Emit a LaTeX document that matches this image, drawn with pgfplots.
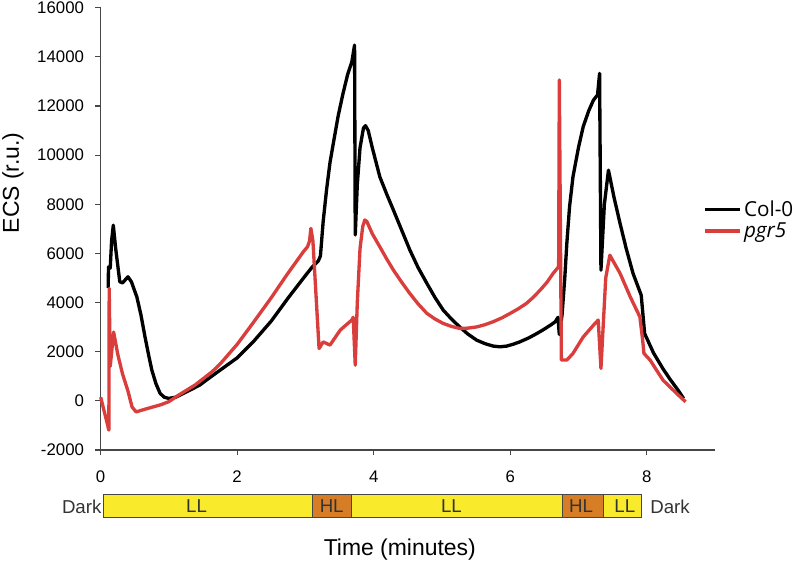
\documentclass[border=0pt]{standalone}
\usepackage{pgfplots}
\pgfplotsset{compat=1.18}
\usepackage{fontspec}
\setmainfont{Liberation Sans}
\newfontfamily\legfont{Open Sans}
\definecolor{colred}{RGB}{218,62,60}
\definecolor{barY}{RGB}{249,234,43}
\definecolor{barO}{RGB}{214,125,38}
\definecolor{axgray}{RGB}{70,70,70}
\begin{document}
\begin{tikzpicture}
\begin{axis}[
  at={(75.5pt,-337.5pt)}, anchor=south west,
  scale only axis, width=460.7pt, height=331.7pt,
  xmin=0, xmax=9, ymin=-2000, ymax=16000,
  axis lines*=left,
  axis line style={axgray, line width=0.9pt},
  xtick={0,2,4,6,8}, ytick={-2000,0,2000,4000,6000,8000,10000,12000,14000,16000},
  tick style={axgray, line width=0.9pt},
  tick align=outside, major tick length=4pt,
  scaled y ticks=false,
  /pgf/number format/assume math mode=true,
  /pgf/number format/1000 sep={},
  ticklabel style={font=\fontsize{12.6pt}{14pt}\selectfont},
  xticklabel style={yshift=-8pt},
  yticklabel style={xshift=-5pt},
  xlabel={Time (minutes)}, ylabel={ECS (r.u.)},
  label style={font=\fontsize{17.2pt}{20pt}\selectfont},
  xlabel style={at={(axis description cs:0.487,-0.226)}, anchor=center},
  ylabel style={at={(axis description cs:-0.1428,0.604)}, anchor=center},
  clip=false,
  legend style={draw=none, fill=none, at={(axis description cs:0.974,0.576)}, anchor=north west,
    font=\legfont\fontsize{15.5pt}{18pt}\selectfont, row sep=-1pt},
  legend cell align=left,
  legend image code/.code={\draw[#1, line width=2.6pt] (0pt,0pt) -- (26pt,0pt);},
  every axis plot/.append style={line width=2.5pt, line join=round},
]
\addplot[black] coordinates {
(0.11,4600) (0.115,5450) (0.14,5400) (0.16,6500) (0.185,7150) (0.22,6200) (0.28,4850) (0.32,4800)
(0.40,5050) (0.45,4850) (0.53,4230) (0.59,3500) (0.65,2600) (0.70,1900) (0.75,1250) (0.81,700)
(0.87,310) (0.93,150) (1.0,100) (1.1,150) (1.26,370) (1.45,640) (1.6,950) (1.75,1250)
(2.0,1750) (2.25,2450) (2.5,3250) (2.75,4200) (3.0,5100) (3.1,5450) (3.19,5700)
(3.22,5900) (3.26,7300) (3.31,8600) (3.36,9700) (3.41,10500) (3.48,11600) (3.55,12500)
(3.62,13300) (3.68,13800) (3.72,14480) (3.73,6750) (3.76,8800) (3.80,10300) (3.85,11100)
(3.88,11200) (3.92,11000) (3.98,10300) (4.09,9120) (4.19,8420) (4.29,7760) (4.41,6950)
(4.53,6140) (4.65,5430) (4.78,4780) (4.9,4200) (5.02,3690) (5.14,3330) (5.26,3010) (5.38,2720)
(5.51,2470) (5.63,2330) (5.75,2230) (5.85,2200) (5.95,2230) (6.05,2310) (6.14,2400) (6.27,2560)
(6.39,2740) (6.5,2920) (6.6,3100) (6.66,3220) (6.70,3400) (6.72,2700) (6.76,3500) (6.80,5000)
(6.83,6410) (6.87,7900) (6.92,9120) (7.0,10300) (7.07,11160) (7.15,11800) (7.22,12240)
(7.28,12450) (7.31,13330) (7.33,5320) (7.38,8000) (7.44,9390) (7.52,8300) (7.61,7220)
(7.70,6200) (7.80,5190) (7.92,4300) (7.97,2740) (8.1,1950) (8.24,1300) (8.35,850) (8.46,435) (8.54,100)
};
\addlegendentry{Col-0}
\addplot[colred] coordinates {
(0,150) (0.05,-400) (0.12,-1190) (0.125,4580) (0.14,1400) (0.19,2800) (0.25,1900) (0.32,1100)
(0.40,400) (0.46,-250) (0.52,-450) (0.6,-380) (0.7,-300) (0.89,-150) (1.0,-30) (1.14,230)
(1.38,640) (1.63,1180) (1.75,1500) (2.0,2300) (2.24,3200) (2.5,4200) (2.72,5100)
(2.97,6070) (3.03,6270) (3.06,6500) (3.08,7020) (3.11,6500) (3.20,2130) (3.26,2400) (3.36,2270)
(3.51,2880) (3.60,3100) (3.68,3290) (3.70,3400) (3.73,1450) (3.76,4000) (3.80,6200) (3.84,7100)
(3.87,7360) (3.90,7300) (3.98,6800) (4.09,6270) (4.19,5780) (4.29,5320) (4.41,4830) (4.53,4370)
(4.65,3950) (4.78,3560) (4.9,3330) (5.02,3150) (5.14,3030) (5.26,2950) (5.38,2960) (5.51,3010)
(5.63,3100) (5.75,3220) (5.88,3380) (6.0,3560) (6.12,3750) (6.24,3970) (6.34,4220) (6.44,4510)
(6.54,4830) (6.63,5190) (6.71,5460) (6.72,13060) (6.75,1660) (6.83,1660)
(6.92,1930) (7.07,2600) (7.22,3080) (7.29,3290) (7.33,1320) (7.40,5000) (7.46,5930) (7.61,5190)
(7.76,4230) (7.90,3420) (7.94,2500) (7.96,1930) (8.05,1660) (8.24,840) (8.44,300) (8.57,-40)
};
\addlegendentry{\textit{pgr5}}
% light regime bar
\begin{scope}[draw=axgray, line width=0.8pt]
\filldraw[fill=barY] (axis cs:0.04,-3811) rectangle (axis cs:3.10,-4764);
\filldraw[fill=barO] (axis cs:3.10,-3811) rectangle (axis cs:3.67,-4764);
\filldraw[fill=barY] (axis cs:3.67,-3811) rectangle (axis cs:6.76,-4764);
\filldraw[fill=barO] (axis cs:6.76,-3811) rectangle (axis cs:7.37,-4764);
\filldraw[fill=barY] (axis cs:7.37,-3811) rectangle (axis cs:7.93,-4764);
\end{scope}
\begin{scope}[every node/.style={font=\fontsize{14pt}{16pt}\selectfont, text=black!80, inner sep=0pt}]
\node[anchor=center] at (axis cs:1.406,-4300) {LL};
\node[anchor=center] at (axis cs:3.385,-4300) {HL};
\node[anchor=center] at (axis cs:5.14,-4300) {LL};
\node[anchor=center] at (axis cs:7.04,-4300) {HL};
\node[anchor=center] at (axis cs:7.68,-4300) {LL};
\node[anchor=east] at (axis cs:0.015,-4300) {Dark};
\node[anchor=west] at (axis cs:8.05,-4300) {Dark};
\end{scope}
\end{axis}
\pgfresetboundingbox
\path[use as bounding box] (0,0) rectangle (597.75pt,-423.75pt);
\end{tikzpicture}
\end{document}
